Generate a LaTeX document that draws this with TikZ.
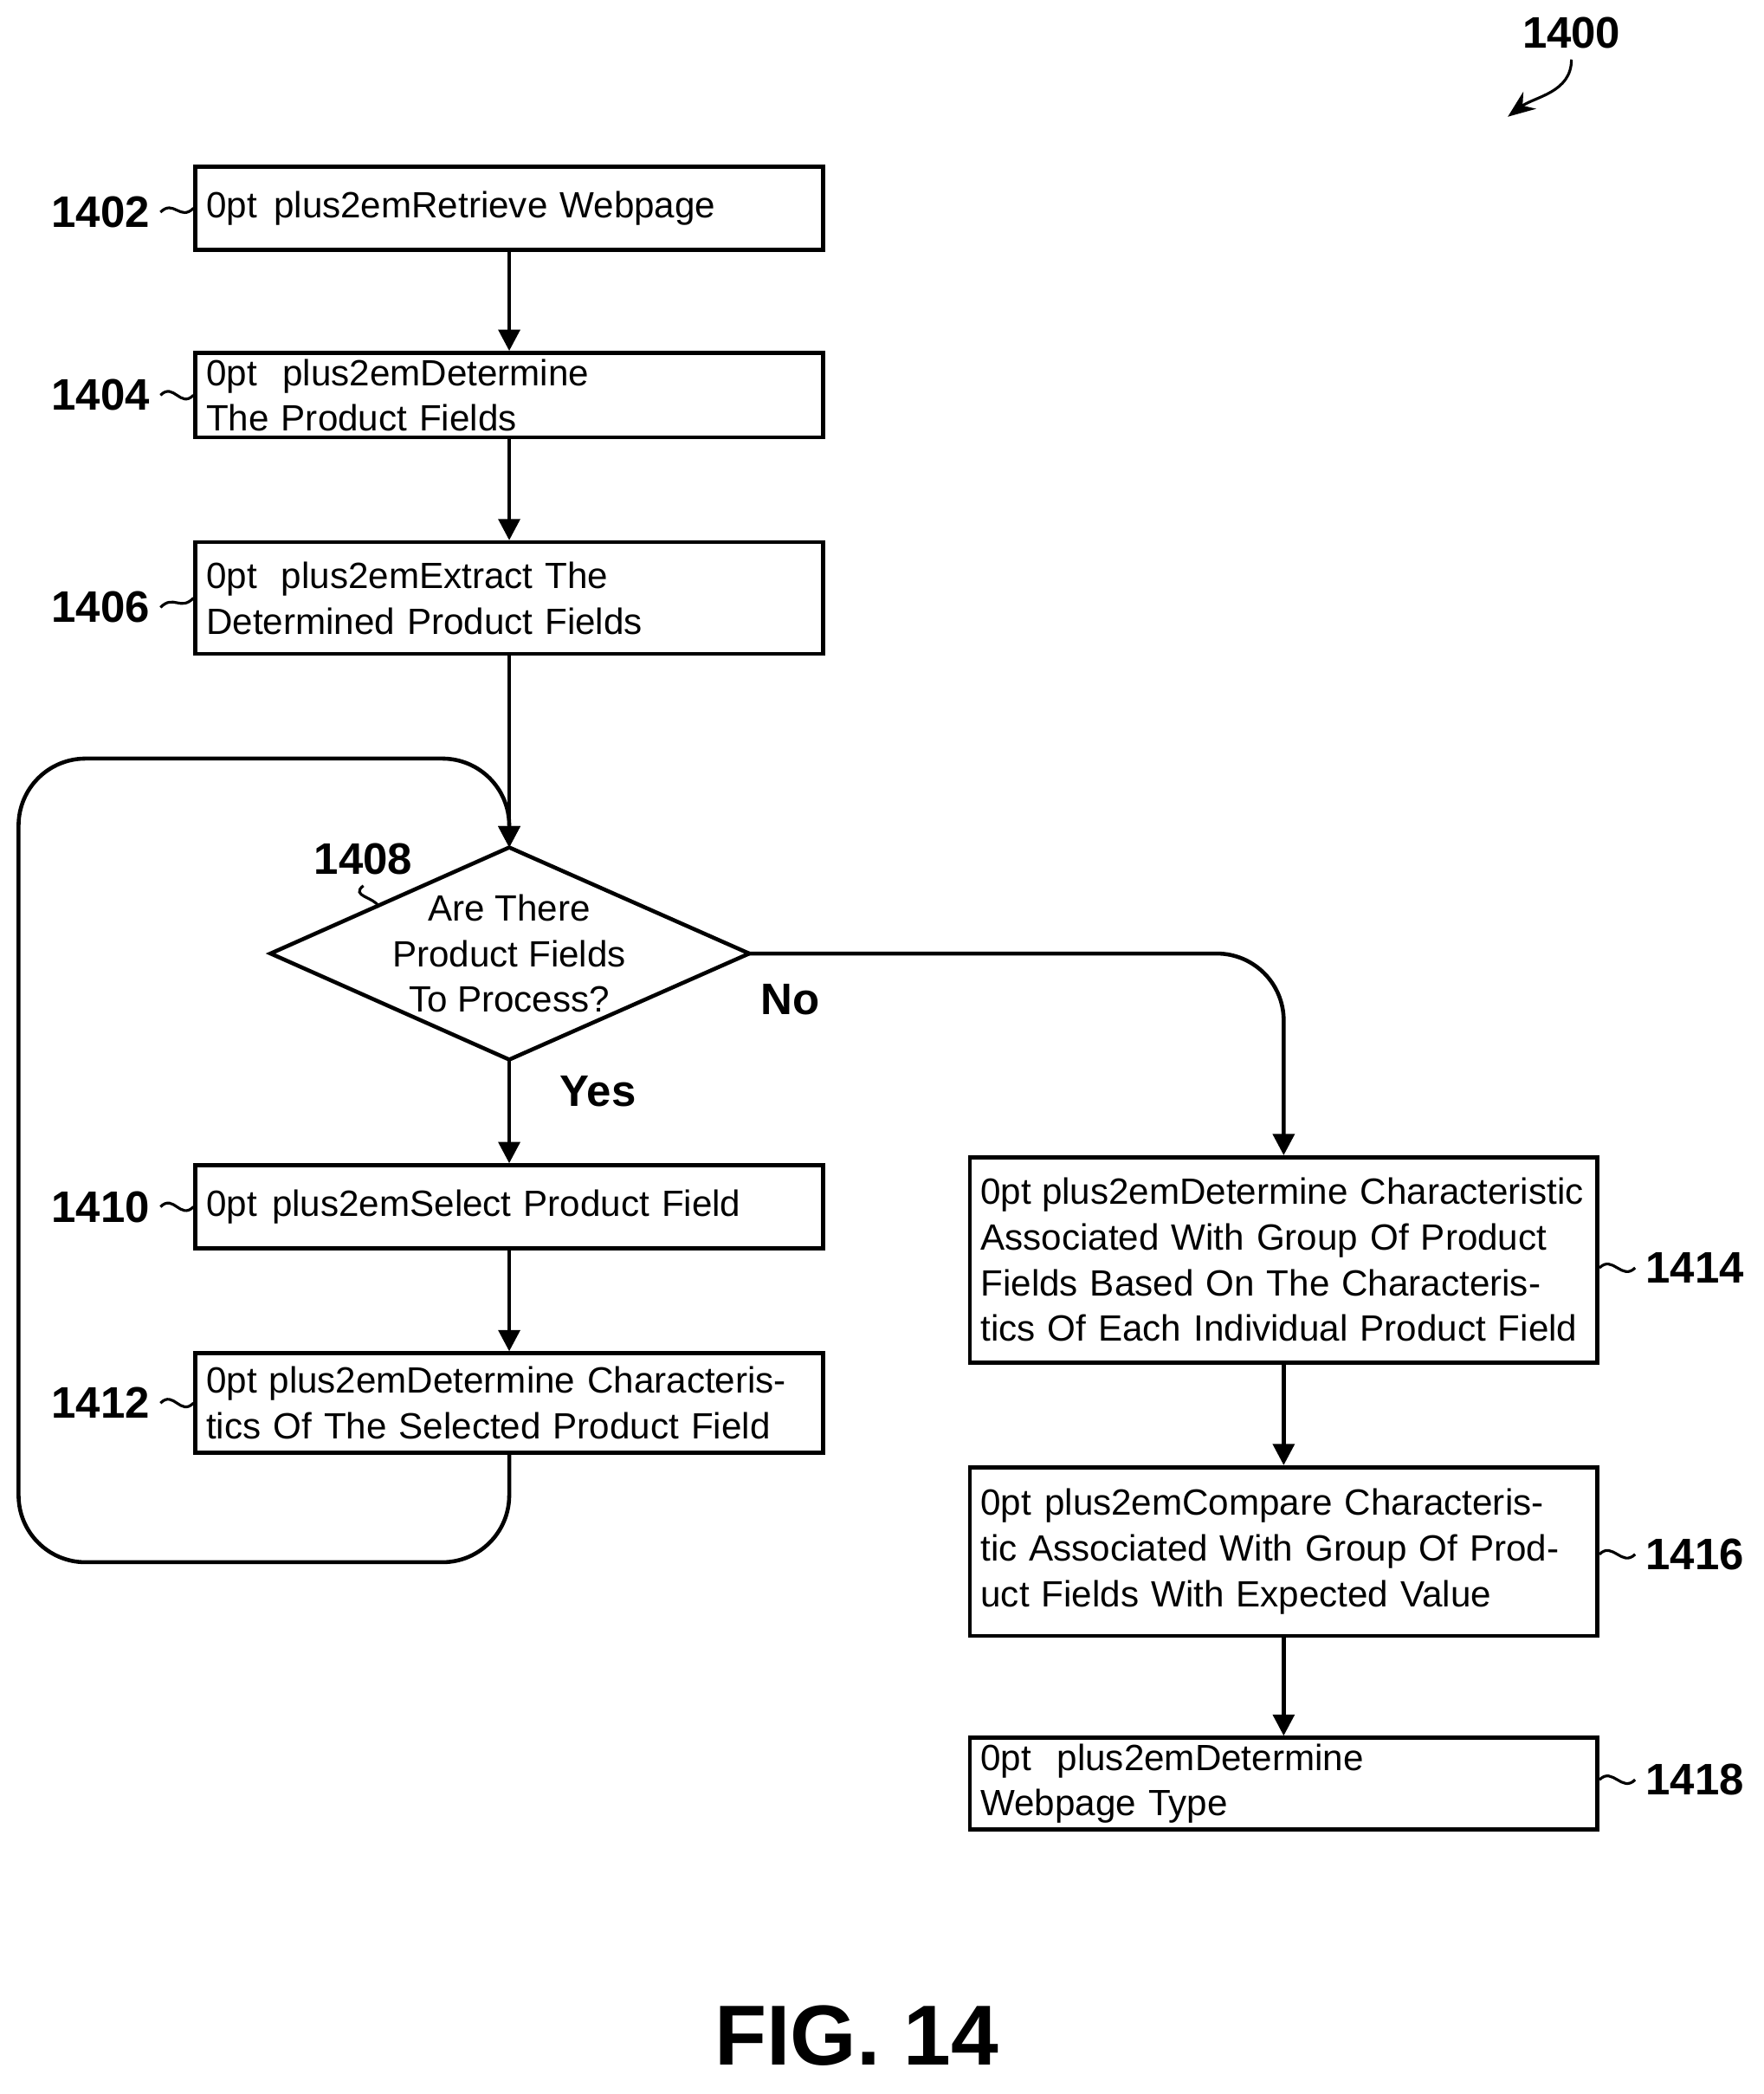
\documentclass[tikz,border=0pt]{standalone}
\usepackage{fontspec}
\setmainfont{Liberation Sans}
\usetikzlibrary{arrows.meta}
\tikzset{
  stepbox/.style={draw,line width=1.3pt,minimum width=7.25cm,minimum height=0.96cm,
    text width=7.0cm,align=center,inner sep=2pt,font=\fontsize{12}{15}\selectfont\hyphenpenalty=10000},
  ref/.style={font=\bfseries\fontsize{14.5}{16}\selectfont},
  flow/.style={line width=1.3pt,-{Triangle[length=7pt,width=7pt]}},
  tie/.style={line width=0.9pt}
}
\begin{document}
\begin{tikzpicture}[x=0.01532cm,y=-0.01532cm]
  \useasboundingbox (0,0) rectangle (1330,1579);
  %%%%%%%%%%%%% left column %%%%%%%%%%%%%
  \node[stepbox] (s1402) at (384,157) {Retrieve Webpage};
  \node[stepbox] (s1404) at (384,298) {Determine The Product Fields};
  \node[stepbox,minimum height=1.29cm] (s1406) at (384,451) {Extract The Determined Product Fields};
  %%%%%%%%%%%%% decision %%%%%%%%%%%%%
  \coordinate (dtop) at (384,639);
  \coordinate (dbot) at (384,799);
  \coordinate (dleft) at (204,719);
  \coordinate (dright) at (565,719);
  \draw[line width=1.3pt] (dtop) -- (dright) -- (dbot) -- (dleft) -- cycle;
  \node[align=center,font=\fontsize{12}{15}\selectfont] (d1408) at (384,719) {Are There\\Product Fields\\To Process?};
  \node[stepbox] (s1410) at (384,910) {Select Product Field};
  \node[stepbox,minimum height=1.15cm] (s1412) at (384,1058) {Determine Characteristics Of The Selected Product Field};
  %%%%%%%%%%%%% right column %%%%%%%%%%%%%
  \node[stepbox,minimum height=2.37cm] (s1414) at (968,950) {Determine Characteristic Associated With Group Of Product Fields Based On The Characteristics Of Each Individual Product Field};
  \node[stepbox,minimum height=1.95cm] (s1416) at (968,1170) {Compare Characteristic Associated With Group Of Product Fields With Expected Value};
  \node[stepbox] (s1418) at (968,1345) {Determine Webpage Type};

  \draw[flow] (s1402) -- (s1404);
  \draw[flow] (s1404) -- (s1406);
  \draw[flow] (s1406) -- (dtop);
  \draw[flow] (dbot) -- (s1410);
  \draw[flow] (s1410) -- (s1412);
  \draw[flow,rounded corners=22pt] (s1412.south) -- (384,1178) -- (14,1178) -- (14,572) -- (384,572) -- (dtop);
  \draw[flow,rounded corners=22pt] (dright) -- (968,719) -- (s1414.north);
  \draw[flow] (s1414) -- (s1416);
  \draw[flow] (s1416) -- (s1418);

  \node[ref] at (451,823) {Yes};
  \node[ref] at (596,754) {No};

  %%%%%%%%%%%%% reference numerals %%%%%%%%%%%%%
  \node[ref,anchor=east] (n1402) at (121,160) {1402};
  \node[ref,anchor=east] (n1404) at (121,298) {1404};
  \node[ref,anchor=east] (n1406) at (121,458) {1406};
  \node[ref,anchor=east] (n1410) at (121,910) {1410};
  \node[ref,anchor=east] (n1412) at (121,1058) {1412};
  \foreach \n in {1402,1404,1406,1410,1412}
    \draw[tie] (n\n.east) .. controls +(10,-10) and +(-10,10) .. (s\n.west);
  \node[ref,anchor=west] (n1414) at (1233,956) {1414};
  \node[ref,anchor=west] (n1416) at (1233,1172) {1416};
  \node[ref,anchor=west] (n1418) at (1233,1342) {1418};
  \foreach \n in {1414,1416,1418}
    \draw[tie] (s\n.east |- n\n.west) .. controls +(10,-10) and +(-10,10) .. (n\n.west);
  \node[ref] (n1408) at (274,648) {1408};
  \draw[tie] (n1408.south) .. controls +(-10,8) and +(-4,-8) .. (286,684);

  \node[ref] (n1400) at (1185,25) {1400};
  \draw[tie,-{Stealth[length=9pt,width=7pt]}] (n1400.south) .. controls +(0,25) and +(20,-15) .. (1137,88);

  \node[font=\bfseries\fontsize{28}{30}\selectfont] (fig) at (646,1535) {FIG. 14};
\end{tikzpicture}
\end{document}
